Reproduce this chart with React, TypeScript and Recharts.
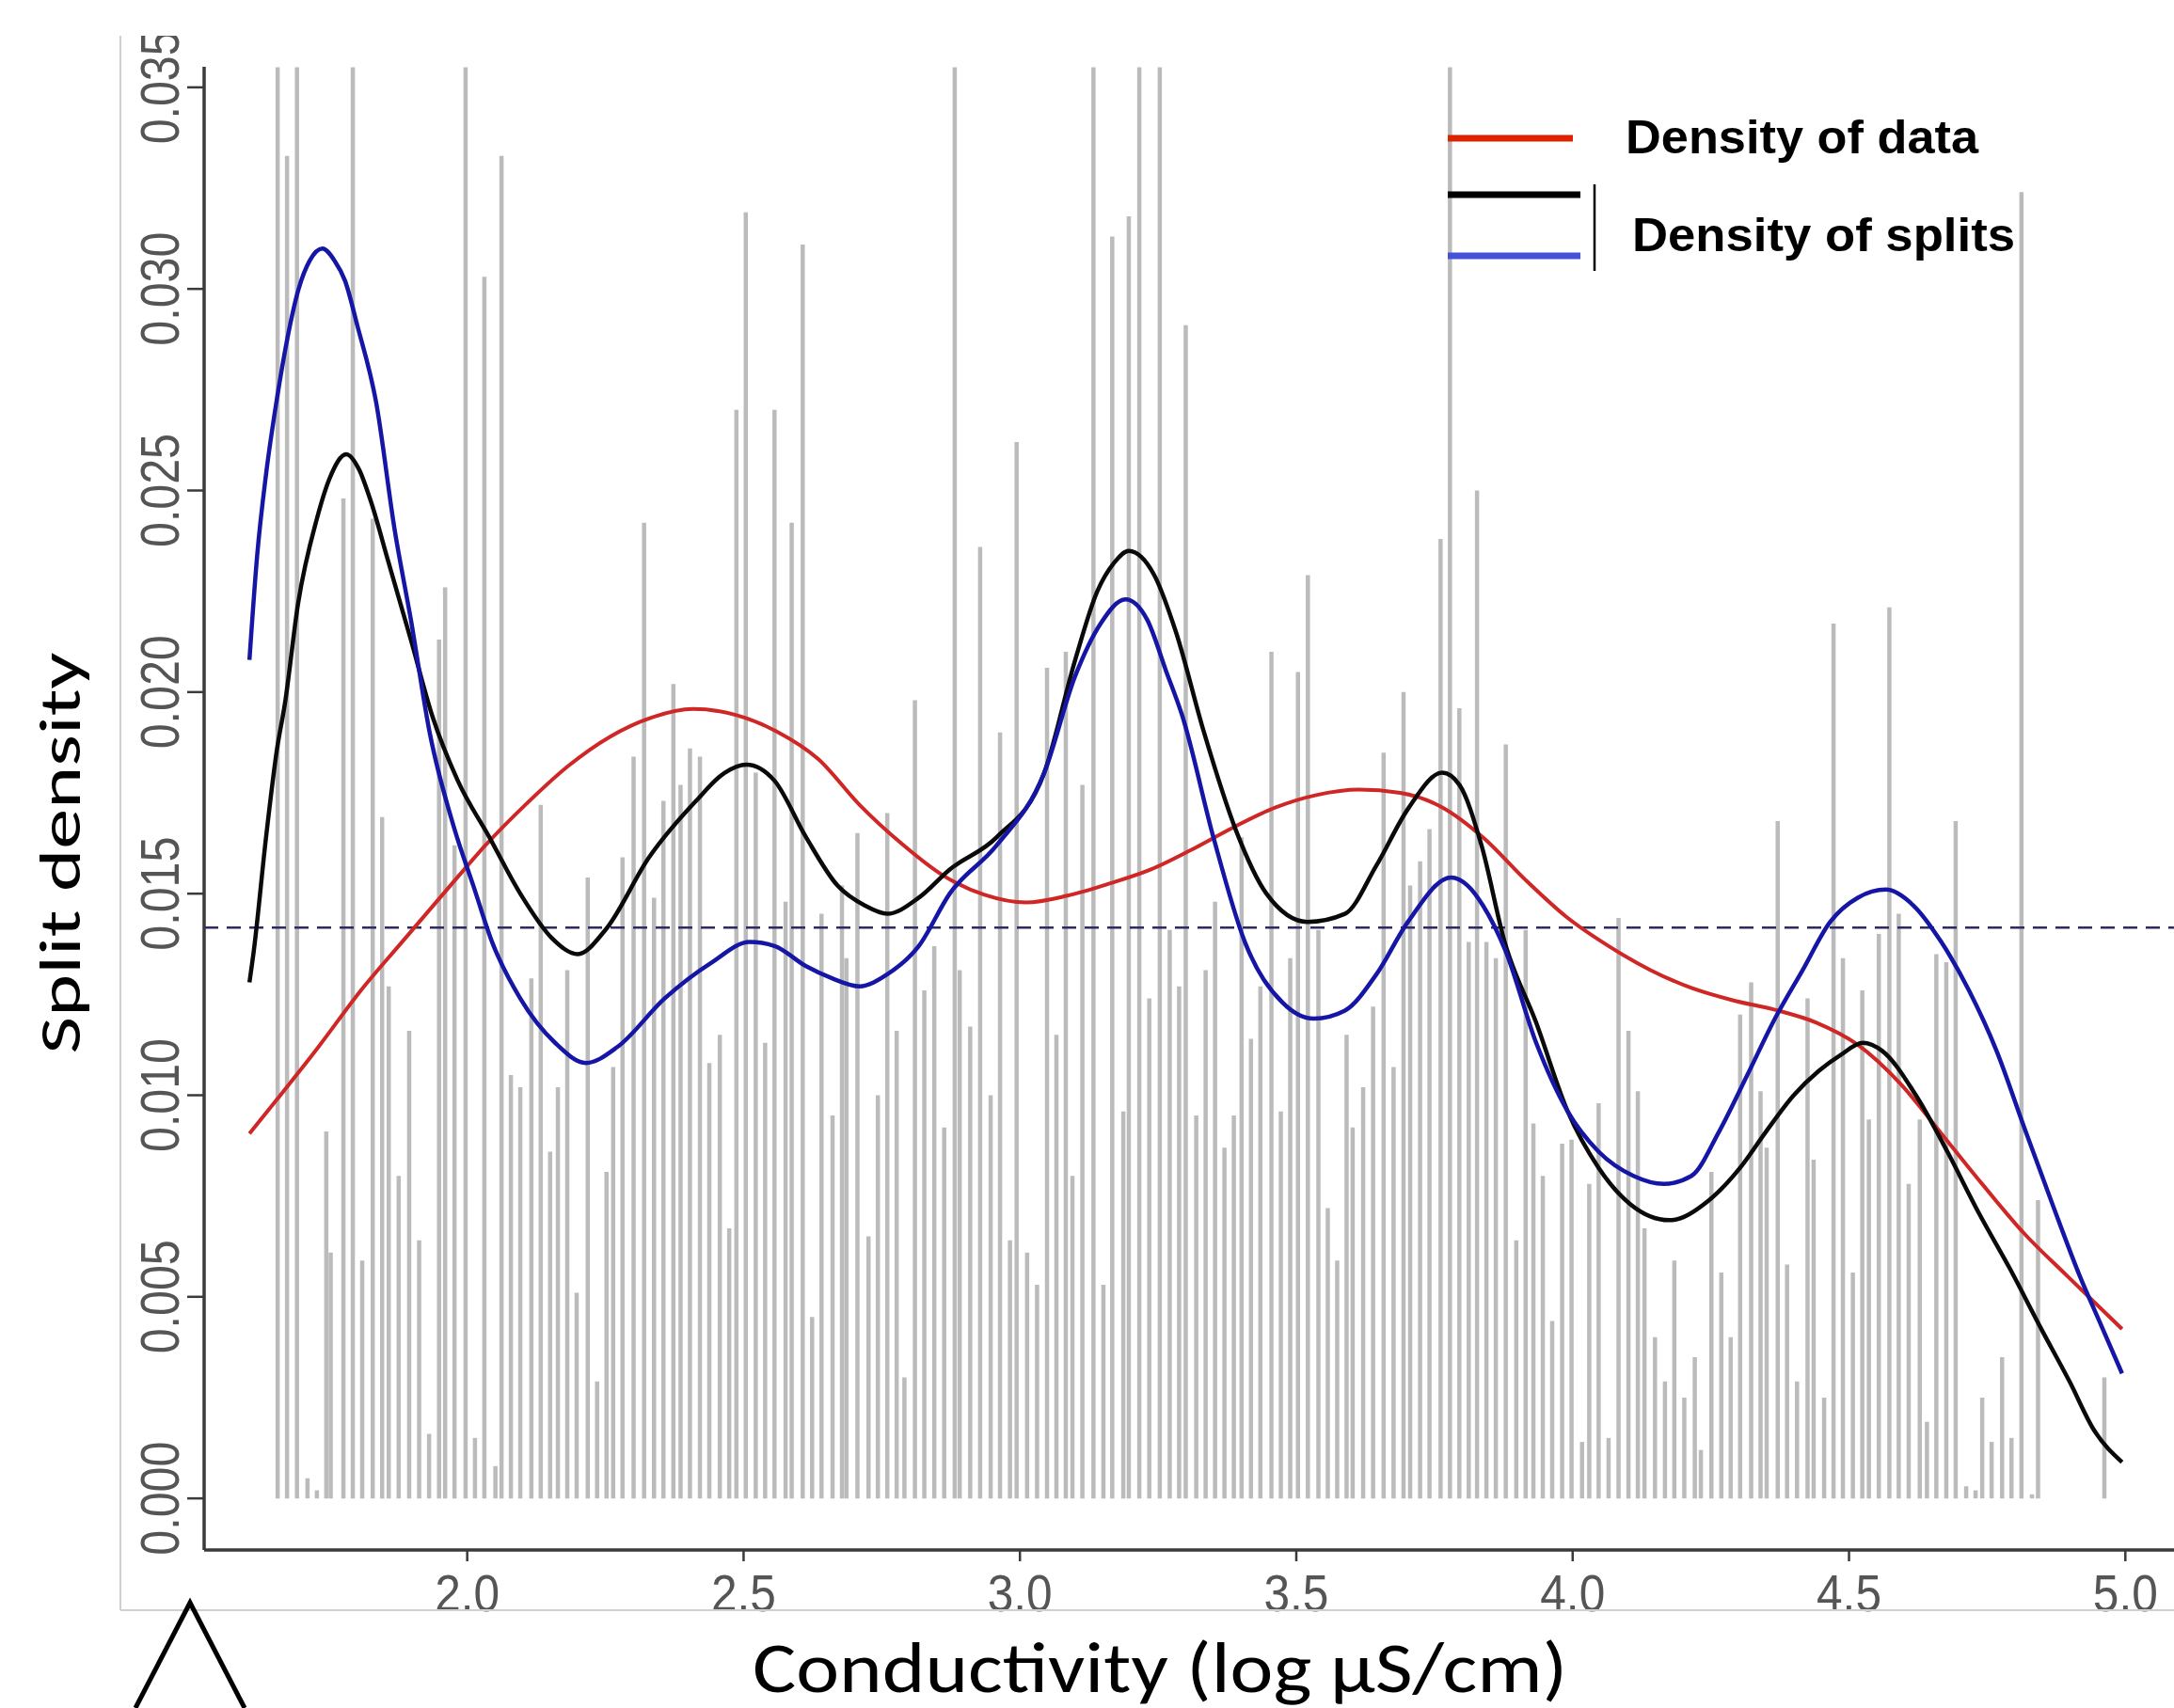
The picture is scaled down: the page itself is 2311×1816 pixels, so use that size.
import React from "react";
import { ComposedChart, Line, Scatter, ErrorBar, XAxis, YAxis, ReferenceLine } from "recharts";

// ---------------- data ----------------
// split histogram spikes: position (log µS/cm) and height (split density)
const spikeX = [
  1.657, 1.674, 1.692, 1.711, 1.728, 1.745, 1.753, 1.776, 1.793, 1.81, 1.829, 1.846, 1.858, 1.876, 1.895, 1.913,
  1.931, 1.949, 1.96, 1.977, 1.997, 2.014, 2.031, 2.051, 2.062, 2.079, 2.096, 2.116, 2.133, 2.15, 2.164,
  2.181, 2.198, 2.218, 2.235, 2.252, 2.264, 2.281, 2.301, 2.32, 2.338, 2.355, 2.373, 2.386, 2.403, 2.421, 2.438,
  2.457, 2.474, 2.487, 2.504, 2.522, 2.539, 2.556, 2.576, 2.587, 2.607, 2.624, 2.641, 2.661, 2.678, 2.686, 2.706,
  2.726, 2.743, 2.76, 2.777, 2.791, 2.81, 2.827, 2.845, 2.863, 2.882, 2.891, 2.91, 2.928, 2.947, 2.964, 2.982,
  2.994, 3.013, 3.031, 3.049, 3.066, 3.083, 3.095, 3.113, 3.133, 3.151, 3.167, 3.187, 3.197, 3.216, 3.234, 3.253,
  3.271, 3.288, 3.3, 3.319, 3.336, 3.353, 3.37, 3.387, 3.401, 3.418, 3.435, 3.455, 3.472, 3.489, 3.503, 3.521,
  3.54, 3.557, 3.574, 3.591, 3.602, 3.621, 3.639, 3.658, 3.676, 3.694, 3.706, 3.724, 3.741, 3.761, 3.778, 3.795,
  3.812, 3.827, 3.844, 3.861, 3.879, 3.898, 3.915, 3.929, 3.946, 3.963, 3.981, 3.998, 4.017, 4.03, 4.047, 4.065,
  4.083, 4.101, 4.118, 4.13, 4.149, 4.167, 4.184, 4.202, 4.221, 4.232, 4.251, 4.269, 4.286, 4.303, 4.323, 4.34,
  4.351, 4.371, 4.388, 4.406, 4.425, 4.436, 4.455, 4.472, 4.489, 4.507, 4.524, 4.536, 4.554, 4.573, 4.59, 4.608,
  4.628, 4.641, 4.658, 4.676, 4.693, 4.712, 4.729, 4.741, 4.758, 4.777, 4.794, 4.812, 4.831, 4.842, 4.962,
];
const spikeH = [
  0.0355, 0.0333, 0.0355, 0.0005, 0.0002, 0.0091, 0.0061, 0.0248, 0.0355, 0.0059, 0.0243, 0.0169, 0.0127, 0.008, 0.0116, 0.0064,
  0.0016, 0.0213, 0.0226, 0.0162, 0.0355, 0.0015, 0.0303, 0.0008, 0.0333, 0.0105, 0.0102, 0.0129, 0.0172, 0.0086, 0.0102,
  0.0131, 0.0051, 0.0154, 0.0029, 0.0081, 0.0107, 0.0159, 0.0184, 0.0242, 0.0149, 0.0173, 0.0202, 0.0177, 0.0186, 0.0184, 0.0108,
  0.0115, 0.0067, 0.027, 0.0319, 0.018, 0.0113, 0.027, 0.0148, 0.0242, 0.0311, 0.0045, 0.0145, 0.0095, 0.0152, 0.0134, 0.0165,
  0.0065, 0.01, 0.017, 0.0116, 0.003, 0.0198, 0.0126, 0.0137, 0.0092, 0.0355, 0.0131, 0.0117, 0.0236, 0.01, 0.019, 0.0064,
  0.0262, 0.0061, 0.0053, 0.0206, 0.0115, 0.021, 0.008, 0.0177, 0.0355, 0.0053, 0.0313, 0.0096, 0.0318, 0.0355, 0.0124, 0.0355,
  0.0141, 0.0127, 0.0291, 0.0095, 0.0131, 0.0148, 0.0087, 0.0095, 0.0164, 0.0114, 0.0127, 0.021, 0.0096, 0.0134, 0.0205, 0.0229,
  0.0141, 0.0072, 0.0059, 0.0115, 0.0092, 0.0102, 0.0122, 0.0185, 0.0107, 0.02, 0.0152, 0.0158, 0.0166, 0.0238, 0.0355, 0.0196,
  0.0138, 0.025, 0.0138, 0.0134, 0.0187, 0.0064, 0.0141, 0.0093, 0.008, 0.0044, 0.0088, 0.0089, 0.0014, 0.0078, 0.0098, 0.0015,
  0.0144, 0.0116, 0.0101, 0.0067, 0.004, 0.0029, 0.0059, 0.0025, 0.0035, 0.0012, 0.0081, 0.0056, 0.004, 0.012, 0.0128, 0.0101,
  0.0087, 0.0168, 0.0058, 0.0029, 0.0124, 0.0084, 0.0025, 0.0217, 0.0134, 0.0056, 0.0126, 0.0094, 0.014, 0.0221, 0.0145, 0.0078,
  0.0094, 0.0019, 0.0135, 0.0133, 0.0168, 0.0003, 0.0002, 0.0025, 0.0014, 0.0035, 0.0015, 0.0324, 0.0001, 0.0074, 0.003,
];

// red: density of data
const dataDensX = [
  1.606, 1.656, 1.732, 1.807, 1.882, 1.957, 2.033, 2.108, 2.183, 2.258, 2.334, 2.409, 2.484, 2.559, 2.635, 2.71,
  2.785, 2.861, 2.936, 3.011, 3.086, 3.162, 3.237, 3.312, 3.387, 3.463, 3.538, 3.613, 3.688, 3.764, 3.839, 3.914,
  3.989, 4.065, 4.14, 4.215, 4.291, 4.366, 4.441, 4.516, 4.592, 4.667, 4.742, 4.817, 4.893, 4.994,
];
const dataDensY = [
  0.00905, 0.0099, 0.01122, 0.01259, 0.0138, 0.015, 0.0162, 0.01724, 0.01817, 0.01889, 0.01937, 0.01958, 0.01944, 0.01903, 0.01834, 0.0172,
  0.01625, 0.01545, 0.01497, 0.01478, 0.01495, 0.01525, 0.0156, 0.0161, 0.01665, 0.01714, 0.01745, 0.01758, 0.0175, 0.01714, 0.01638, 0.01535,
  0.01442, 0.0137, 0.01311, 0.01266, 0.01235, 0.01212, 0.0118, 0.01125, 0.0103, 0.00905, 0.00778, 0.00657, 0.00554, 0.0042,
];

// black: density of splits
const splitsX = [
  1.606, 1.614, 1.636, 1.656, 1.67, 1.694, 1.728, 1.751, 1.781, 1.805, 1.824, 1.858, 1.898, 1.937, 1.983, 2.04,
  2.096, 2.153, 2.2, 2.25, 2.329, 2.414, 2.466, 2.505, 2.556, 2.613, 2.67, 2.72, 2.76, 2.817, 2.873, 2.958,
  3.044, 3.1, 3.14, 3.17, 3.197, 3.243, 3.282, 3.333, 3.39, 3.446, 3.52, 3.588, 3.645, 3.702, 3.764, 3.795,
  3.835, 3.877, 3.934, 3.991, 4.047, 4.104, 4.175, 4.247, 4.303, 4.35, 4.4, 4.445, 4.485, 4.525, 4.56, 4.621,
  4.678, 4.734, 4.791, 4.848, 4.899, 4.943, 4.994,
];
const splitsY = [
  0.0128, 0.0136, 0.0164, 0.0186, 0.0197, 0.0222, 0.0243, 0.0253, 0.0259, 0.0255, 0.0248, 0.0232, 0.0213, 0.0194, 0.0178, 0.0164,
  0.015, 0.0139, 0.0135, 0.0141, 0.0159, 0.0173, 0.018, 0.0182, 0.0178, 0.0164, 0.0152, 0.0147, 0.0145, 0.0149, 0.0156, 0.0164,
  0.018, 0.0208, 0.0225, 0.0232, 0.0235, 0.0229, 0.0215, 0.019, 0.0166, 0.015, 0.0143, 0.0145, 0.0157, 0.0171, 0.018, 0.0177,
  0.0162, 0.0138, 0.0118, 0.0096, 0.0082, 0.0073, 0.0069, 0.0074, 0.0082, 0.0091, 0.01, 0.0106, 0.011, 0.0113, 0.0111, 0.01,
  0.0086, 0.0071, 0.0057, 0.0042, 0.0029, 0.0017, 0.0009,
];

// blue: density of splits (second run)
const splits2X = [
  1.606, 1.62, 1.636, 1.656, 1.675, 1.695, 1.715, 1.738, 1.76, 1.779, 1.801, 1.835, 1.869, 1.898, 1.932, 1.977,
  2.011, 2.045, 2.096, 2.159, 2.215, 2.272, 2.357, 2.443, 2.511, 2.556, 2.613, 2.66, 2.71, 2.76, 2.817, 2.873,
  2.958, 3.044, 3.1, 3.146, 3.191, 3.23, 3.265, 3.294, 3.35, 3.407, 3.475, 3.532, 3.588, 3.645, 3.702, 3.78,
  3.81, 3.838, 3.878, 3.934, 3.991, 4.047, 4.11, 4.165, 4.215, 4.265, 4.316, 4.366, 4.416, 4.466, 4.516, 4.567,
  4.617, 4.667, 4.717, 4.767, 4.817, 4.868, 4.918, 4.956, 4.994,
];
const splits2Y = [
  0.0208, 0.0234, 0.0254, 0.0273, 0.0288, 0.03, 0.0307, 0.031, 0.0307, 0.0302, 0.0291, 0.0272, 0.024, 0.0218, 0.019, 0.0166,
  0.0152, 0.0138, 0.0124, 0.0113, 0.0108, 0.0112, 0.0124, 0.0133, 0.0138, 0.0137, 0.0132, 0.0129, 0.0127, 0.013, 0.0137, 0.015,
  0.0162, 0.018, 0.0204, 0.0217, 0.0223, 0.0218, 0.0205, 0.0194, 0.0164, 0.0138, 0.0123, 0.0119, 0.0121, 0.013, 0.0143, 0.0154,
  0.0152, 0.0147, 0.0136, 0.0113, 0.0096, 0.0086, 0.008, 0.0078, 0.008, 0.0091, 0.0105, 0.0119, 0.0131, 0.0143, 0.0149, 0.0151,
  0.0147, 0.0138, 0.0126, 0.0111, 0.0092, 0.0073, 0.0055, 0.0043, 0.0031,
];

const meanSplitDensity = 0.01416;
const xTicks = [2.0, 2.5, 3.0, 3.5, 4.0, 4.5, 5.0];
const yTicks = [0, 0.005, 0.01, 0.015, 0.02, 0.025, 0.03, 0.035];
const xTitle = "Conductivity (log µS/cm)";
const yTitle = "Split density";
const legendLabels = ["Density of data", "Density of splits"];

// ---------------- tables built from the arrays ----------------
const zip = (xs: number[], ys: number[]) => xs.map((x, i) => ({ x, y: ys[i] }));
const spikeRows = spikeX.map((x, i) => ({ x, h: spikeH[i], err: [spikeH[i], 0] }));
const dataRows = zip(dataDensX, dataDensY);
const splitRows = zip(splitsX, splitsY);
const split2Rows = zip(splits2X, splits2Y);

// ---------------- styles ----------------
const X_DOMAIN: [number, number] = [1.524, 5.088];
const Y_DOMAIN: [number, number] = [-0.00128, 0.03551];
const RED = "#cf2626";
const BLACK = "#0a0a0a";
const BLUE = "#1616a6";
const AXIS = "#3a3a3a";
const TICK_FONT = "'Liberation Sans', Arial, Helvetica, sans-serif";
const TITLE_FONT = "Carlito, Calibri, Lato, 'Open Sans', sans-serif";

const XTick = (props: any) => {
  const { x, y, payload } = props;
  return (
    <text
      x={x}
      y={y + 51}
      textAnchor="middle"
      fontFamily={TICK_FONT}
      fontSize={56}
      fill="#555"
      textLength={69}
      lengthAdjust="spacingAndGlyphs"
    >
      {Number(payload.value).toFixed(1)}
    </text>
  );
};

const YTick = (props: any) => {
  const { x, y, payload } = props;
  const bx = x - 7;
  return (
    <text
      x={bx}
      y={y}
      transform={`rotate(-90 ${bx} ${y})`}
      textAnchor="middle"
      fontFamily={TICK_FONT}
      fontSize={57}
      fill="#555"
      textLength={121}
      lengthAdjust="spacingAndGlyphs"
    >
      {Number(payload.value).toFixed(3)}
    </text>
  );
};

const NoDot = () => <g />;

export default function App() {
  return (
    <div style={{ position: "relative", width: 2311, height: 1816, background: "#fff", overflow: "hidden" }}>
      <style>{"html,body{margin:0;padding:0;overflow:hidden;background:#fff}"}</style>
      <div style={{ position: "absolute", left: 0, top: 0 }}>
        <ComposedChart width={2311} height={1816} margin={{ top: 71, right: 0, bottom: 68, left: 117 }}>
          <XAxis
            xAxisId={0}
            type="number"
            dataKey="x"
            domain={X_DOMAIN}
            allowDataOverflow
            ticks={xTicks}
            interval={0}
            height={100}
            tickSize={12}
            tickLine={{ stroke: AXIS, strokeWidth: 2.5 }}
            axisLine={{ stroke: AXIS, strokeWidth: 3.5 }}
            tick={<XTick />}
          />
          <XAxis
            xAxisId="top"
            orientation="top"
            type="number"
            dataKey="x"
            domain={X_DOMAIN}
            allowDataOverflow
            height={0}
            tick={false}
            tickLine={false}
            axisLine={{ stroke: AXIS, strokeWidth: 3 }}
          />
          <YAxis
            type="number"
            domain={Y_DOMAIN}
            allowDataOverflow
            ticks={yTicks}
            interval={0}
            width={100}
            tickSize={18}
            tickLine={{ stroke: AXIS, strokeWidth: 2.5 }}
            axisLine={{ stroke: AXIS, strokeWidth: 3.5 }}
            tick={<YTick />}
          />
          <Scatter data={spikeRows} dataKey="h" isAnimationActive={false} shape={<NoDot />}>
            <ErrorBar dataKey="err" direction="y" width={0} stroke="#bbbbbb" strokeWidth={4.5} isAnimationActive={false} />
          </Scatter>
          <ReferenceLine y={meanSplitDensity} stroke="#2b2b66" strokeWidth={2.5} strokeDasharray="15 9" />
          <Line data={dataRows} dataKey="y" type="monotone" stroke={RED} strokeWidth={4} dot={false} isAnimationActive={false} />
          <Line data={splitRows} dataKey="y" type="monotone" stroke={BLACK} strokeWidth={4.5} dot={false} isAnimationActive={false} />
          <Line data={split2Rows} dataKey="y" type="monotone" stroke={BLUE} strokeWidth={4.5} dot={false} isAnimationActive={false} />
        </ComposedChart>
      </div>
      <svg width={2311} height={1816} style={{ position: "absolute", left: 0, top: 0, pointerEvents: "none" }}>
        {/* cropped top of the figure */}
        <rect x={0} y={0} width={2311} height={38} fill="#fff" />
        {/* light outer frame */}
        <line x1={128} y1={38} x2={128} y2={1712} stroke="#cfcfcf" strokeWidth={2} />
        <line x1={128} y1={1712} x2={2311} y2={1712} stroke="#cfcfcf" strokeWidth={2} />
        {/* legend */}
        <line x1={1539} y1={147} x2={1672} y2={147} stroke="#dd2200" strokeWidth={7} />
        <line x1={1539} y1={207} x2={1680} y2={207} stroke="#000" strokeWidth={7} />
        <line x1={1539} y1={272} x2={1680} y2={272} stroke="#4650d8" strokeWidth={7} />
        <line x1={1695} y1={196} x2={1695} y2={288} stroke="#000" strokeWidth={2.5} />
        <text x={1728} y={163} fontFamily={TICK_FONT} fontWeight="bold" fontSize={50} fill="#000" textLength={375} lengthAdjust="spacingAndGlyphs">
          {legendLabels[0]}
        </text>
        <text x={1735} y={267} fontFamily={TICK_FONT} fontWeight="bold" fontSize={50} fill="#000" textLength={407} lengthAdjust="spacingAndGlyphs">
          {legendLabels[1]}
        </text>
        {/* axis titles */}
        <text x={800} y={1799} fontFamily={TITLE_FONT} fontSize={76} fill="#000" textLength={866} lengthAdjust="spacingAndGlyphs">
          {xTitle}
        </text>
        <text
          x={85}
          y={907}
          transform="rotate(-90 85 907)"
          textAnchor="middle"
          fontFamily={TITLE_FONT}
          fontSize={62}
          fill="#000"
          textLength={427}
          lengthAdjust="spacingAndGlyphs"
        >
          {yTitle}
        </text>
        {/* top of the panel marker, cut by the page edge */}
        <path d="M 144 1816 L 202 1704 L 260 1816" fill="none" stroke="#000" strokeWidth={5} strokeLinejoin="miter" />
      </svg>
    </div>
  );
}
